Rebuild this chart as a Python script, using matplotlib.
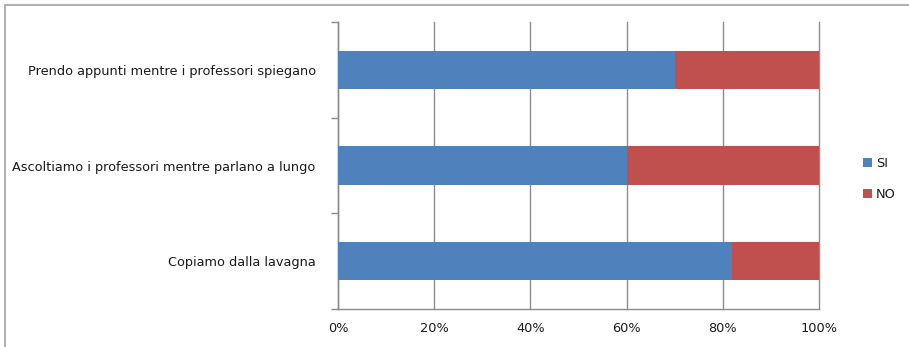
import numpy as np
import matplotlib.pyplot as plt
from matplotlib.patches import Rectangle

# ---------------------------------------------------------------------------
# Data (percentages)
# ---------------------------------------------------------------------------
categories = [
    "Copiamo dalla lavagna",
    "Ascoltiamo i professori mentre parlano a lungo",
    "Prendo appunti mentre i professori spiegano",
]
si_values = [82, 60, 70]
no_values = [18, 40, 30]
series_names = ["SI", "NO"]
x_ticks = [0, 20, 40, 60, 80, 100]
x_tick_labels = ["0%", "20%", "40%", "60%", "80%", "100%"]

BLUE = "#4F81BD"
RED = "#C0504D"
GRID = "#8C8C8C"
TEXT = "#1A1A1A"
FS = 9.3

plt.rcParams["font.family"] = ["DejaVu Sans"]

fig = plt.figure(figsize=(9.09, 3.47), dpi=100)
ax = fig.add_axes([0.3718, 0.1095, 0.901 - 0.3718, 0.9366 - 0.1095])

y = np.arange(len(categories))
ax.barh(y, si_values, height=0.4, color=BLUE, label=series_names[0], zorder=3)
ax.barh(y, no_values, left=si_values, height=0.4, color=RED,
        label=series_names[1], zorder=3)

ax.set_xlim(0, 100)
ax.set_ylim(-0.5, len(categories) - 0.5)
ax.set_xticks(x_ticks)
ax.set_xticklabels(x_tick_labels, fontsize=FS, color=TEXT)
ax.set_yticks(y)
ax.set_yticklabels(categories, fontsize=FS, color=TEXT)
ax.tick_params(axis="y", length=0, pad=16)
ax.tick_params(axis="x", length=0, pad=9)

# minor ticks at category boundaries / x tick marks below axis
ax.set_yticks([-0.5, 0.5, 1.5, 2.5], minor=True)
ax.tick_params(axis="y", which="minor", length=5, color=GRID, width=1)
ax.set_xticks(x_ticks, minor=True)
ax.tick_params(axis="x", which="minor", length=5, color=GRID, width=1)

ax.grid(axis="x", color=GRID, linewidth=1, zorder=0)
for gl in ax.get_xgridlines():
    gl.set_clip_on(False)
for side in ["top", "right"]:
    ax.spines[side].set_visible(False)
for side in ["left", "bottom"]:
    ax.spines[side].set_color(GRID)
    ax.spines[side].set_linewidth(1)

leg = fig.legend(loc="center left", bbox_to_anchor=(0.944, 0.485),
                 frameon=False, fontsize=FS, handlelength=0.7,
                 handleheight=0.7, handletextpad=0.3, labelspacing=1.4,
                 borderaxespad=0)
for t in leg.get_texts():
    t.set_color(TEXT)

# outer chart border
fig.patches.append(Rectangle((0.0055, -0.05), 1.2, 1.036, transform=fig.transFigure,
                             fill=False, edgecolor="#B0B0B0", linewidth=1.5))

fig.savefig("out.png", dpi=100)
